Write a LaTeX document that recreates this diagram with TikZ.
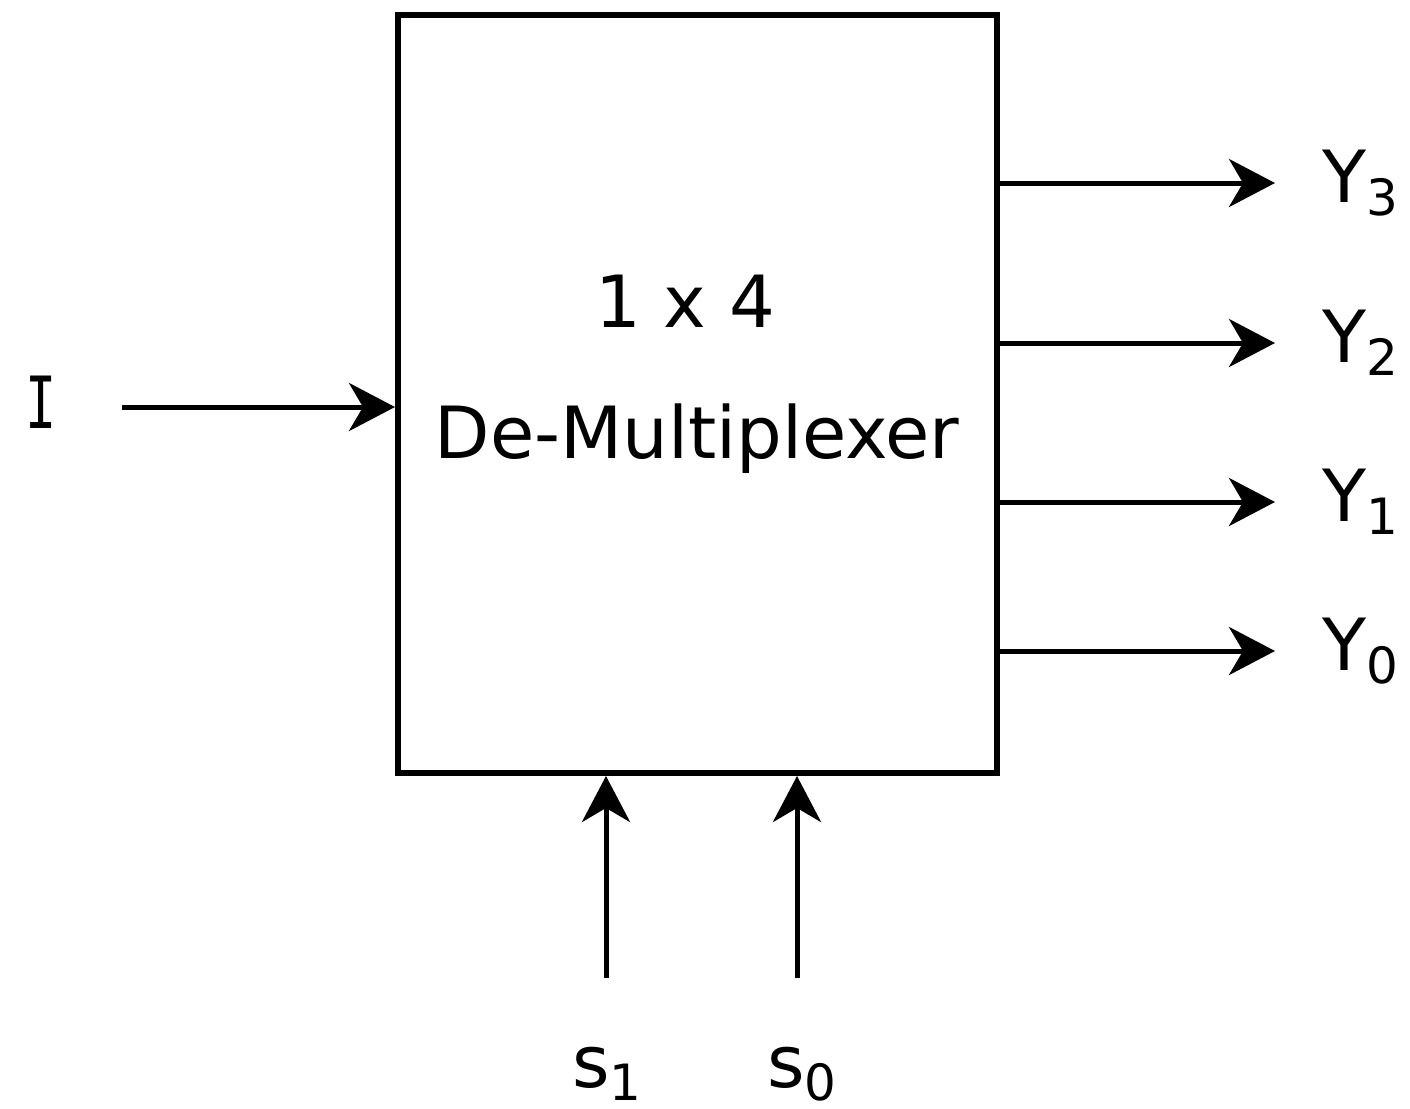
\documentclass[tikz,border=0pt]{standalone}
\usepackage{fontspec}
\setmainfont{DejaVu Sans}
\newfontfamily\monofnt{DejaVu Sans Mono}
\usetikzlibrary{arrows.meta}
\newcommand{\subsc}[1]{\raisebox{-6.5pt}[\height][0pt]{\fontsize{25pt}{25pt}\selectfont #1}}
\begin{document}
\begin{tikzpicture}[x=0.5pt,y=-0.5pt,
  lbl/.style={inner sep=0pt, font=\fontsize{36pt}{36pt}\selectfont},
  sig/.style={line width=2.5pt, -{Stealth[length=23pt,width=24pt,inset=7pt]}},
  blockbox/.style={draw, line width=3pt, minimum width=299.5pt, minimum height=379pt, inner sep=0pt}]
\useasboundingbox (0,0) rectangle (1410,1109);
\node[blockbox] (box) at (697.5,394) {};
\node[lbl, anchor=base] (t1) at (685,327) {1 x 4};
\node[lbl, anchor=base] (t2) at (697,458) {De-Multiplexer};
% input
\node[lbl, anchor=base] (inI) at (41,428) {\scalebox{0.72}[1]{\monofnt I}};
\coordinate (istart) at (122,407);
\draw[sig] (istart) -- (istart -| box.west);
% outputs
\foreach \n/\y in {3/183, 2/343, 1/502, 0/651}{
  \coordinate (o\n) at (997,\y);
  \coordinate (e\n) at (1275,\y);
  \draw[sig] (o\n) -- (e\n);
  \node[lbl, anchor=base west] (Y\n) at (1322,\y+19) {Y\subsc{\n}};
}
% selects
\coordinate (b1) at (606,978);
\coordinate (b0) at (797,978);
\draw[sig] (b1) -- (b1 |- box.south);
\draw[sig] (b0) -- (b0 |- box.south);
\node[lbl, anchor=base west] (s1) at (572,1087) {s\subsc{1}};
\node[lbl, anchor=base west] (s0) at (767,1087) {s\subsc{0}};
\end{tikzpicture}
\end{document}
